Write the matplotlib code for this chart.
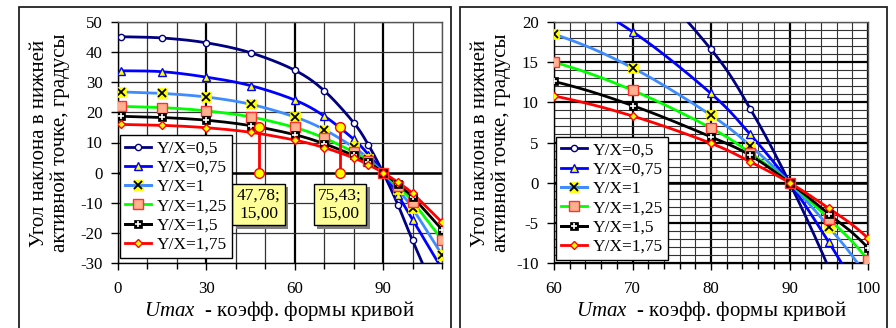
import matplotlib
matplotlib.use('Agg')
import matplotlib.pyplot as plt
import matplotlib.patheffects as pe
from matplotlib.patches import Rectangle
from matplotlib.ticker import MultipleLocator
import numpy as np

plt.rcParams['font.family'] = ['Liberation Serif', 'DejaVu Serif']
plt.rcParams['mathtext.fontset'] = 'custom'
plt.rcParams['mathtext.it'] = 'Liberation Serif:italic'
plt.rcParams['mathtext.rm'] = 'Liberation Serif'
FS = 12.2      # ticks
FS_LEG = 12.5  # legend / boxes
FS_LAB = 15    # axis titles

# Umax values
umax = [1, 15, 30, 45, 60, 70, 80, 85, 90, 95, 100, 110]

yx_05 = [45.1, 44.7, 43.1, 39.8, 34.0, 27.2, 16.6, 9.2, 0, -10.6, -22.5, -45.0]
yx_075 = [33.8, 33.5, 31.7, 28.9, 24.1, 18.8, 11.1, 6.0, 0, -7.4, -15.6, -32.0]
yx_1 = [26.8, 26.3, 25.1, 22.7, 18.5, 14.3, 8.4, 4.6, 0, -5.5, -11.9, -27.3]
yx_125 = [22.0, 21.6, 20.5, 18.5, 15.0, 11.5, 6.8, 3.7, 0, -4.5, -9.6, -22.3]
yx_15 = [18.7, 18.3, 17.4, 15.6, 12.6, 9.6, 5.7, 3.4, 0, -3.9, -8.1, -18.9]
yx_175 = [16.0, 15.7, 14.9, 13.4, 10.8, 8.3, 4.9, 2.6, 0, -3.2, -6.9, -16.5]

labels = ['Y/X=0,5', 'Y/X=0,75', 'Y/X=1', 'Y/X=1,25', 'Y/X=1,5', 'Y/X=1,75']

# points marked on the left chart
mark_x = [47.78, 75.43]
mark_y = [15.00, 15.00]

ylabel_txt = 'Угол наклона в нижней\nактивной точке, градусы'
xlabel_txt = r'$\it{Umax}$  - коэфф. формы кривой'


def smooth(xs, ys, n=20):
    # excel-like bezier smoothing of the line between the points
    p = np.column_stack([xs, ys]).astype(float)
    pp = np.vstack([p[0], p, p[-1]])
    out = []
    t = np.linspace(0, 1, n)[:, None]
    for i in range(len(p) - 1):
        p0, p1 = pp[i + 1], pp[i + 2]
        c1 = p0 + (pp[i + 2] - pp[i]) / 6
        c2 = p1 - (pp[i + 3] - pp[i + 1]) / 6
        seg = (1 - t)**3 * p0 + 3 * (1 - t)**2 * t * c1 + 3 * (1 - t) * t**2 * c2 + t**3 * p1
        out.append(seg)
    out = np.vstack(out)
    return out[:, 0], out[:, 1]


series = [
    (yx_05, '#000080', [dict(marker='o', ms=4.5, mfc='white', mec='#000080', mew=1)]),
    (yx_075, '#0000FF', [dict(marker='^', ms=5.5, mfc='#FFFF00', mec='#0000FF', mew=1)]),
    (yx_1, '#3F8CFF', [dict(marker='s', ms=7, mfc='#FFFF00', mec='#FFFF00', mew=0.5),
                       dict(marker='x', ms=6, mec='black', mew=1.3)]),
    (yx_125, '#00FF00', [dict(marker='s', ms=6.5, mfc='#FFB08F', mec='#FF3030', mew=1)]),
    (yx_15, 'black', [dict(marker='s', ms=6, mfc='black', mec='black', mew=0.5),
                      dict(marker='+', ms=5, mec='white', mew=1.2)]),
    (yx_175, '#FF0000', [dict(marker='D', ms=4.5, mfc='#FFFF00', mec='#FF0000', mew=1)]),
]

fig = plt.figure(figsize=(8.96, 3.28), dpi=100)

# panel frames
for x0, x1 in [(19, 451), (460, 887)]:
    fig.patches.append(Rectangle((x0 / 896, -0.05), (x1 - x0) / 896, 1 - 7 / 328 + 0.05,
                                 transform=fig.transFigure, fill=False,
                                 ec='#222222', lw=1.3))

ax1 = fig.add_axes([118 / 896, 1 - 263 / 328, 324 / 896, 241 / 328])
ax2 = fig.add_axes([554 / 896, 1 - 263 / 328, 314 / 896, 241 / 328])


def draw(ax):
    handles = []
    for (vals, col, mks), lab in zip(series, labels):
        sx, sy = smooth(umax, vals)
        ax.plot(sx, sy, color=col, lw=2, zorder=3)
        parts = []
        for mk in mks:
            ax.plot(umax, vals, ls='none', zorder=4, **mk)
            h, = ax.plot([], [], color=col, lw=2, **mk)
            parts.append(h)
        handles.append(tuple(parts))
    return handles


h1 = draw(ax1)
h2 = draw(ax2)

# left chart axes
ax1.set_xlim(0, 110)
ax1.set_ylim(-30, 50)
ax1.xaxis.set_major_locator(MultipleLocator(30))
ax1.xaxis.set_minor_locator(MultipleLocator(10))
ax1.yaxis.set_major_locator(MultipleLocator(10))
ax1.grid(which='major', axis='x', color='black', lw=1.6, zorder=1)
ax1.grid(which='minor', axis='x', color='#333333', lw=0.9, zorder=1)
ax1.grid(which='major', axis='y', color='#333333', lw=0.9, zorder=1)
ax1.axhline(0, color='black', lw=1.8, zorder=2)

# right chart axes
ax2.set_xlim(60, 100)
ax2.set_ylim(-10, 20)
ax2.xaxis.set_major_locator(MultipleLocator(10))
ax2.xaxis.set_minor_locator(MultipleLocator(2))
ax2.yaxis.set_major_locator(MultipleLocator(5))
ax2.yaxis.set_minor_locator(MultipleLocator(1))
ax2.grid(which='major', color='black', lw=1.6, zorder=1)
ax2.grid(which='minor', color='#333333', lw=0.8, zorder=1)
ax2.axhline(0, color='black', lw=1.8, zorder=2)

for ax in (ax1, ax2):
    ax.set_axisbelow(True)
    for s in ax.spines.values():
        s.set_color('#555555')
        s.set_linewidth(1)
    ax.spines['left'].set_color('black')
    ax.spines['bottom'].set_color('black')
    ax.tick_params(axis='y', which='major', length=5, width=1, pad=6, labelsize=FS, direction='out')
    ax.tick_params(axis='y', which='minor', length=0)
    ax.tick_params(axis='x', which='major', length=5, width=1, pad=8, labelsize=FS, direction='out')
    ax.tick_params(axis='x', which='minor', length=4, width=1, direction='out')
    ax.set_yticklabels([f'{int(v)}' for v in ax.get_yticks()])

# drop lines and labels on the left chart
for mx, my in zip(mark_x, mark_y):
    ax1.plot([mx, mx], [my, 0], color='#FF0000', lw=2, zorder=5)
    ax1.plot([mx, mx], [my, 0], ls='none', marker='o', ms=7, mfc='#FFFF00', mec='#FF0000',
             mew=1, zorder=6)
    txt = f'{mx:.2f};\n{my:.2f}'.replace('.', ',')
    t = ax1.text(mx, -10.6, txt, ha='center', va='center', fontsize=FS_LEG, linespacing=1.1,
                 zorder=7, bbox=dict(boxstyle='square,pad=0.25', fc='#FFFF99', ec='black', lw=1))
    t.get_bbox_patch().set_path_effects([
        pe.SimplePatchShadow(offset=(2.5, -2.5), shadow_rgbFace='#808080', alpha=1),
        pe.Normal()])

leg_kw = dict(loc='lower left', fontsize=FS_LEG, frameon=True, fancybox=False, framealpha=1,
              edgecolor='black', borderaxespad=0, handlelength=1.5, handletextpad=0.3,
              labelspacing=0.18, borderpad=0.3)
l1 = ax1.legend(h1, labels, bbox_to_anchor=(0.006, 0.02), **leg_kw)
l2 = ax2.legend(h2, labels, bbox_to_anchor=(0.006, 0.012), **leg_kw)
for l in (l1, l2):
    l.get_frame().set_linewidth(1)
    l.set_zorder(10)

# axis titles
for cx, xl_cx in [(50 / 896, 280 / 896), (491 / 896, 712 / 896)]:
    fig.text(cx, 1 - 143 / 328, ylabel_txt, rotation=90, ha='center', va='center',
             fontsize=FS_LAB, linespacing=1.08, multialignment='center')
    fig.text(xl_cx, 1 - 311 / 328, xlabel_txt, ha='center', va='center', fontsize=FS_LAB)

fig.savefig('out.png', dpi=100)
